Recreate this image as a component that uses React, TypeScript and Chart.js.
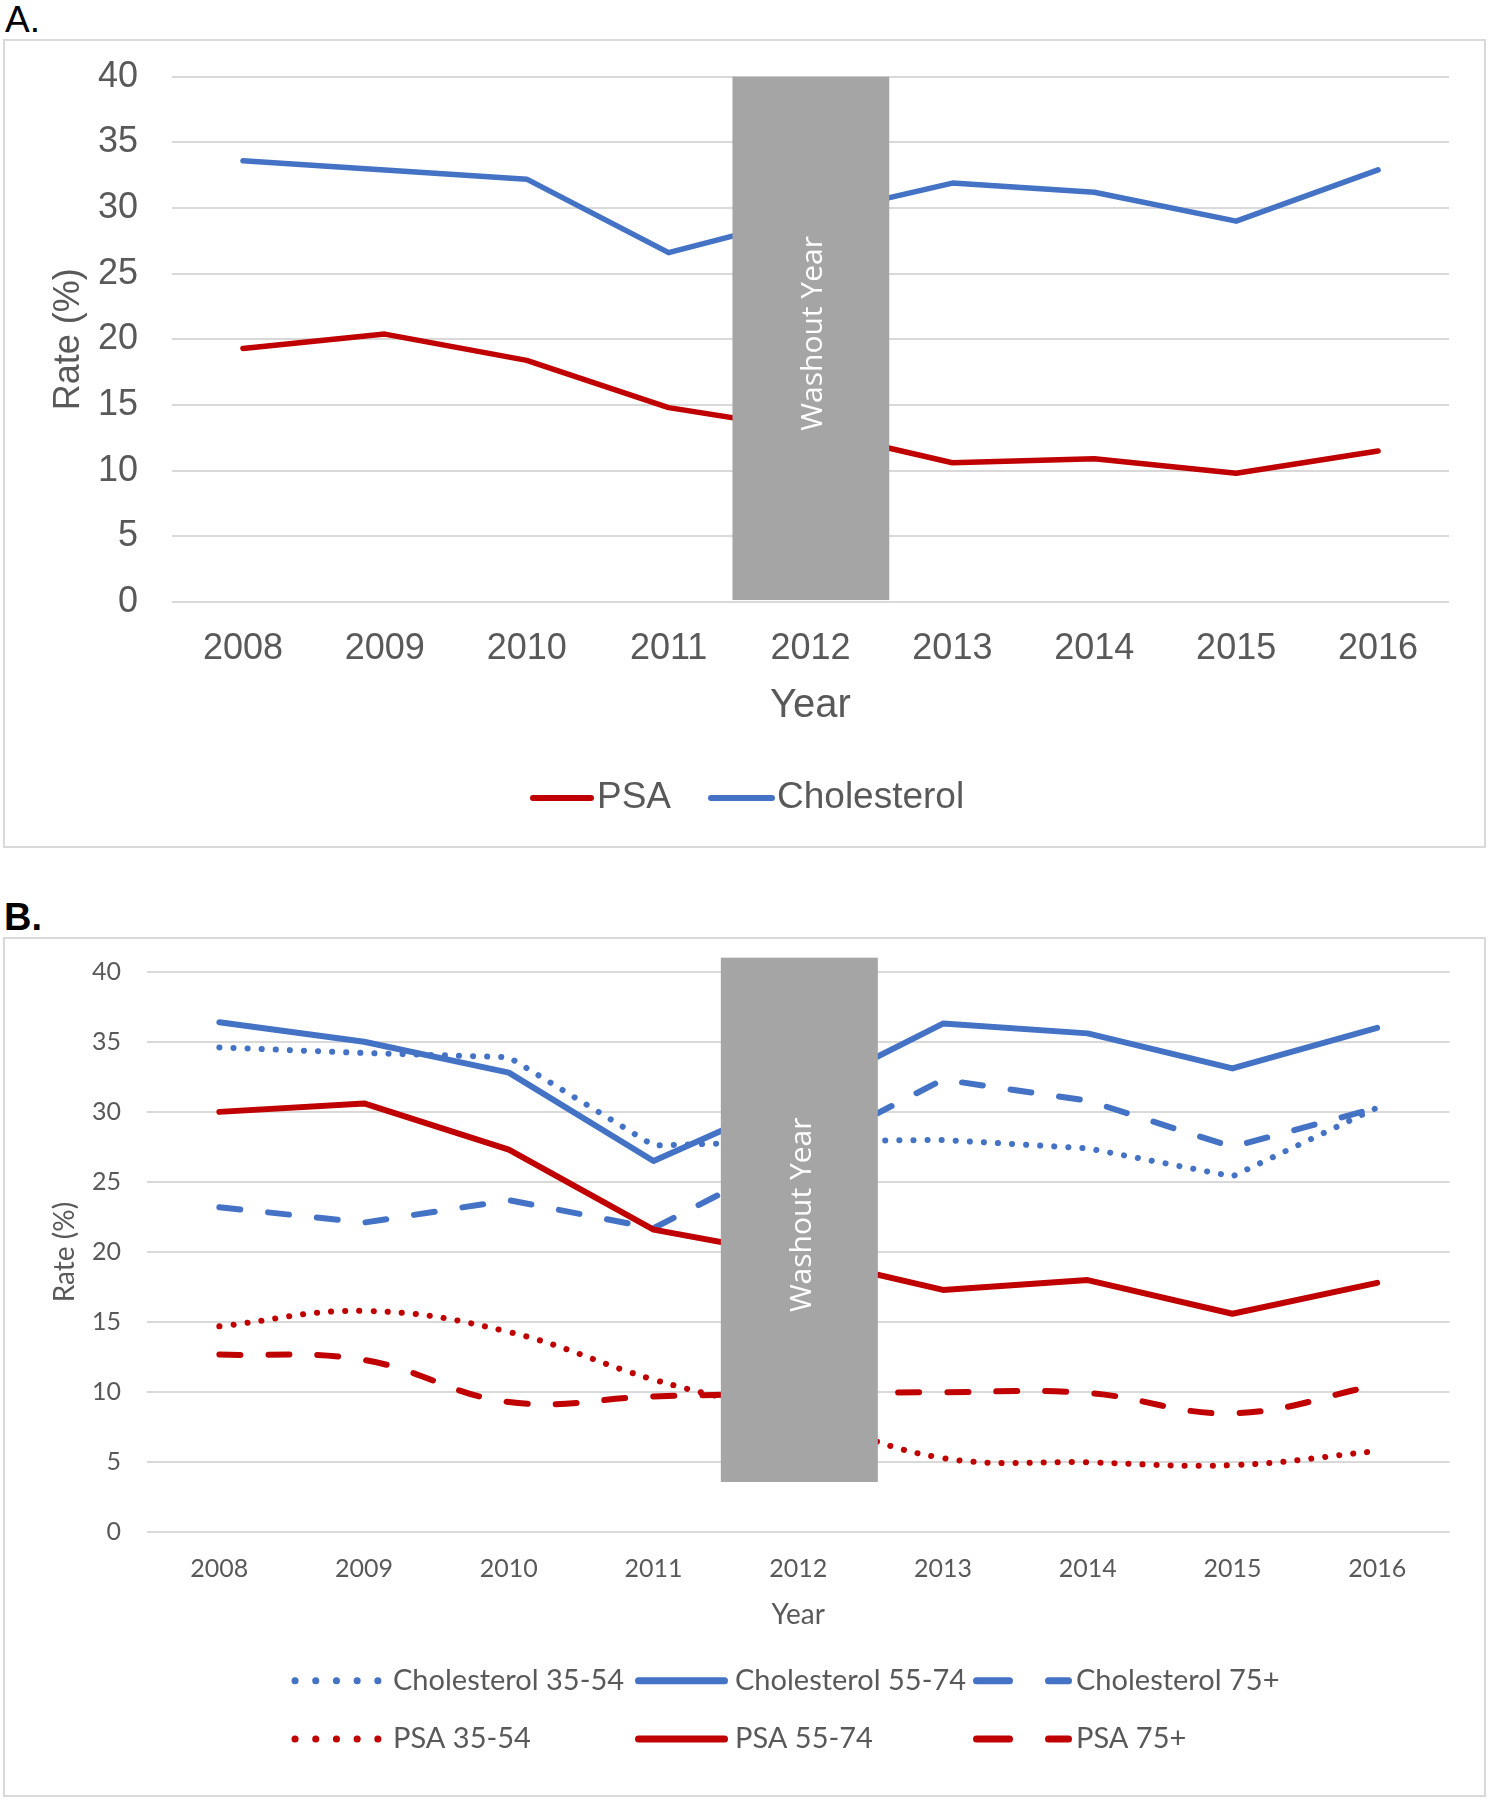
import React, { useEffect, useRef } from 'react';
import { Chart, registerables } from 'chart.js';

Chart.register(...registerables);

// ---------- data ----------
const years = ['2008', '2009', '2010', '2011', '2012', '2013', '2014', '2015', '2016'];

// Panel A
const psaAll = [19.3, 20.4, 18.4, 14.8, 13.1, 10.6, 10.9, 9.8, 11.5];
const cholesterolAll = [33.6, 32.9, 32.2, 26.6, 29.4, 31.9, 31.2, 29.0, 32.9];

// Panel B
const chol3554 = [34.6, 34.2, 33.9, 27.6, 27.9, 28.0, 27.4, 25.4, 30.3];
const chol5574 = [36.4, 35.0, 32.8, 26.5, 31.1, 36.3, 35.6, 33.1, 36.0];
const chol75 = [23.2, 22.1, 23.7, 21.7, 27.0, 32.3, 30.8, 27.5, 30.3];
const psa3554 = [14.7, 15.8, 14.3, 10.9, 8.3, 5.3, 5.0, 4.8, 5.8];
const psa5574 = [30.0, 30.6, 27.3, 21.6, 19.7, 17.3, 18.0, 15.6, 17.8];
const psa75 = [12.7, 12.3, 9.3, 9.7, 9.9, 10.0, 9.95, 8.5, 10.5];

const labelsA = ['PSA', 'Cholesterol'];
const labelsB = ['Cholesterol 35-54', 'Cholesterol 55-74', 'Cholesterol 75+', 'PSA 35-54', 'PSA 55-74', 'PSA 75+'];
const washoutText = 'Washout Year';
const washoutIndex = 4;

// ---------- styles ----------
const GRID = '#d9d9d9';
const TICK = '#595959';
const BLUE = '#4472C4';
const RED = '#C00000';
const WASH = '#A5A5A5';
const DOT = [0.1, 14];
const DASH = [21, 28];

function washoutPlugin(o: any) {
  return {
    id: 'washout',
    afterDatasetsDraw(chart: any) {
      const { ctx } = chart;
      const xs = chart.scales.x;
      const ys = chart.scales.y;
      const c = xs.getPixelForValue(washoutIndex);
      const w = xs.getPixelForValue(1) - xs.getPixelForValue(0);
      const x0 = c + o.from * w;
      const x1 = c + o.to * w;
      const y0 = ys.getPixelForValue(o.top);
      const y1 = ys.getPixelForValue(o.bottom);
      ctx.save();
      ctx.fillStyle = WASH;
      ctx.fillRect(x0, y0, x1 - x0, y1 - y0);
      ctx.translate((x0 + x1) / 2 + o.dx, (y0 + y1) / 2 + o.dy);
      ctx.rotate(-Math.PI / 2);
      ctx.fillStyle = '#ffffff';
      ctx.font = '30px "Open Sans"';
      ctx.textAlign = 'center';
      ctx.textBaseline = 'middle';
      ctx.fillText(washoutText, 0, 0);
      ctx.restore();
    },
  };
}

function legendPlugin(items: any[]) {
  return {
    id: 'lineLegend',
    afterDraw(chart: any) {
      const ctx = chart.ctx;
      items.forEach((it) => {
        ctx.save();
        ctx.strokeStyle = it.color;
        ctx.lineWidth = it.width;
        ctx.lineCap = 'round';
        ctx.setLineDash(it.dash);
        ctx.beginPath();
        ctx.moveTo(it.x0, it.y);
        ctx.lineTo(it.x1, it.y);
        ctx.stroke();
        ctx.setLineDash([]);
        ctx.fillStyle = TICK;
        ctx.font = it.font;
        ctx.textAlign = 'left';
        ctx.textBaseline = 'middle';
        ctx.fillText(it.label, it.tx, it.y);
        ctx.restore();
      });
    },
  };
}

const fitY = (w: number) => (s: any) => {
  s.width = w;
  s.paddingTop = 0;
  s.paddingBottom = 0;
};
const fitX = (h: number) => (s: any) => {
  s.height = h;
  s.paddingLeft = 0;
  s.paddingRight = 0;
};

function PanelA() {
  const ref = useRef<HTMLCanvasElement>(null);
  useEffect(() => {
    const fam = '"Liberation Sans", Arial, sans-serif';
    const lf = `37px ${fam}`;
    const chart = new Chart(ref.current as HTMLCanvasElement, {
      type: 'line',
      data: {
        labels: years,
        datasets: [
          { label: labelsA[0], data: psaAll, borderColor: RED, backgroundColor: RED, borderWidth: 5.5, pointRadius: 0, borderCapStyle: 'round', borderJoinStyle: 'round', tension: 0, order: 2 },
          { label: labelsA[1], data: cholesterolAll, borderColor: BLUE, backgroundColor: BLUE, borderWidth: 5.5, pointRadius: 0, borderCapStyle: 'round', borderJoinStyle: 'round', tension: 0, order: 1 },
        ],
      },
      options: {
        animation: false,
        responsive: false,
        events: [],
        layout: { padding: { left: 0, right: 35, top: 35.7, bottom: 116 } },
        plugins: { legend: { display: false }, tooltip: { enabled: false } },
        scales: {
          x: {
            offset: true,
            grid: { display: false, drawTicks: false },
            border: { display: false },
            ticks: { color: TICK, font: { family: fam, size: 36 }, padding: 25, maxRotation: 0, autoSkip: false },
            title: { display: true, text: 'Year', color: TICK, font: { family: fam, size: 40 }, padding: { top: 0, bottom: 0 } },
            afterFit: fitX(128),
          },
          y: {
            min: 0,
            max: 40,
            grid: { color: GRID, lineWidth: 2, drawTicks: false },
            border: { display: false },
            ticks: { stepSize: 5, color: TICK, font: { family: fam, size: 36 }, padding: 34 },
            title: { display: true, text: 'Rate (%)', color: TICK, font: { family: fam, size: 36 }, padding: { top: 42, bottom: 0 } },
            afterFit: fitY(167),
          },
        },
      } as any,
      plugins: [
        washoutPlugin({ from: -0.55, to: 0.555, top: 40, bottom: 0.15, dx: 3, dy: -5 }),
        legendPlugin([
          { label: labelsA[0], color: RED, width: 6, dash: [], x0: 528, x1: 586, y: 757, tx: 592, font: lf },
          { label: labelsA[1], color: BLUE, width: 6, dash: [], x0: 706, x1: 767, y: 757, tx: 772, font: lf },
        ]),
      ],
    });
    return () => chart.destroy();
  }, []);
  return <canvas ref={ref} width={1479} height={805} style={{ position: 'absolute', left: 0, top: 0, width: 1479, height: 805 }} />;
}

function PanelB() {
  const ref = useRef<HTMLCanvasElement>(null);
  useEffect(() => {
    const fam = 'Lato, "Open Sans", sans-serif';
    const lf = `29px ${fam}`;
    const base = { borderWidth: 6, pointRadius: 0, borderCapStyle: 'round', borderJoinStyle: 'round' };
    const chart = new Chart(ref.current as HTMLCanvasElement, {
      type: 'line',
      data: {
        labels: years,
        datasets: [
          { ...base, label: labelsB[0], data: chol3554, borderColor: BLUE, borderDash: DOT, tension: 0, order: 6 },
          { ...base, label: labelsB[1], data: chol5574, borderColor: BLUE, tension: 0, order: 5 },
          { ...base, label: labelsB[2], data: chol75, borderColor: BLUE, borderDash: DASH, tension: 0, order: 4 },
          { ...base, label: labelsB[3], data: psa3554, borderColor: RED, borderDash: DOT, tension: 0.4, order: 3 },
          { ...base, label: labelsB[4], data: psa5574, borderColor: RED, tension: 0, order: 2 },
          { ...base, label: labelsB[5], data: psa75, borderColor: RED, borderDash: DASH, tension: 0.4, order: 1 },
        ],
      },
      options: {
        animation: false,
        responsive: false,
        events: [],
        layout: { padding: { left: 0, right: 34.5, top: 32.7, bottom: 163.2 } },
        plugins: { legend: { display: false }, tooltip: { enabled: false } },
        scales: {
          x: {
            offset: true,
            grid: { display: false, drawTicks: false },
            border: { display: false },
            ticks: { color: TICK, font: { family: fam, size: 25 }, padding: 21.6, maxRotation: 0, autoSkip: false },
            title: { display: true, text: 'Year', color: TICK, font: { family: fam, size: 28 }, padding: { top: 0, bottom: 0 } },
            afterFit: fitX(99.4),
          },
          y: {
            min: 0,
            max: 40,
            grid: { color: GRID, lineWidth: 2, drawTicks: false },
            border: { display: false },
            ticks: { stepSize: 5, color: TICK, font: { family: fam, size: 25 }, padding: 26 },
            title: { display: true, text: 'Rate (%)', color: TICK, font: { family: fam, size: 28 }, padding: { top: 43, bottom: 0 } },
            afterFit: fitY(142),
          },
        },
      } as any,
      plugins: [
        washoutPlugin({ from: -0.535, to: 0.55, top: 41.0, bottom: 3.6, dx: 3, dy: -5 }),
        legendPlugin([
          { label: labelsB[0], color: BLUE, width: 7, dash: [0.1, 20.6], x0: 290, x1: 373, y: 741.7, tx: 388, font: lf },
          { label: labelsB[1], color: BLUE, width: 7, dash: [], x0: 633.5, x1: 719.5, y: 741.7, tx: 730, font: lf },
          { label: labelsB[2], color: BLUE, width: 7, dash: [33, 39], x0: 971.5, x1: 1063.5, y: 741.7, tx: 1071, font: lf },
          { label: labelsB[3], color: RED, width: 7, dash: [0.1, 20.6], x0: 290, x1: 373, y: 800, tx: 388, font: lf },
          { label: labelsB[4], color: RED, width: 7, dash: [], x0: 633.5, x1: 719.5, y: 800, tx: 730, font: lf },
          { label: labelsB[5], color: RED, width: 7, dash: [33, 39], x0: 971.5, x1: 1063.5, y: 800, tx: 1071, font: lf },
        ]),
      ],
    });
    return () => chart.destroy();
  }, []);
  return <canvas ref={ref} width={1479} height={856} style={{ position: 'absolute', left: 0, top: 0, width: 1479, height: 856 }} />;
}

export default function App() {
  const box: React.CSSProperties = { position: 'absolute', left: 3, width: 1483, border: '2px solid #d9d9d9', boxSizing: 'border-box', background: '#fff' };
  return (
    <div style={{ position: 'absolute', left: 0, top: 0, width: 1490, height: 1800, background: '#fff', overflow: 'hidden' }}>
      <div style={{ position: 'absolute', left: 5, top: 1, fontFamily: '"Liberation Sans", Arial, sans-serif', fontSize: 37, lineHeight: '37px', color: '#000' }}>A.</div>
      <div style={{ ...box, top: 39, height: 809 }}>
        <PanelA />
      </div>
      <div style={{ position: 'absolute', left: 4, top: 898, fontFamily: '"Liberation Sans", Arial, sans-serif', fontWeight: 'bold', fontSize: 38, lineHeight: '38px', color: '#000' }}>B.</div>
      <div style={{ ...box, top: 937, height: 860 }}>
        <PanelB />
      </div>
    </div>
  );
}
